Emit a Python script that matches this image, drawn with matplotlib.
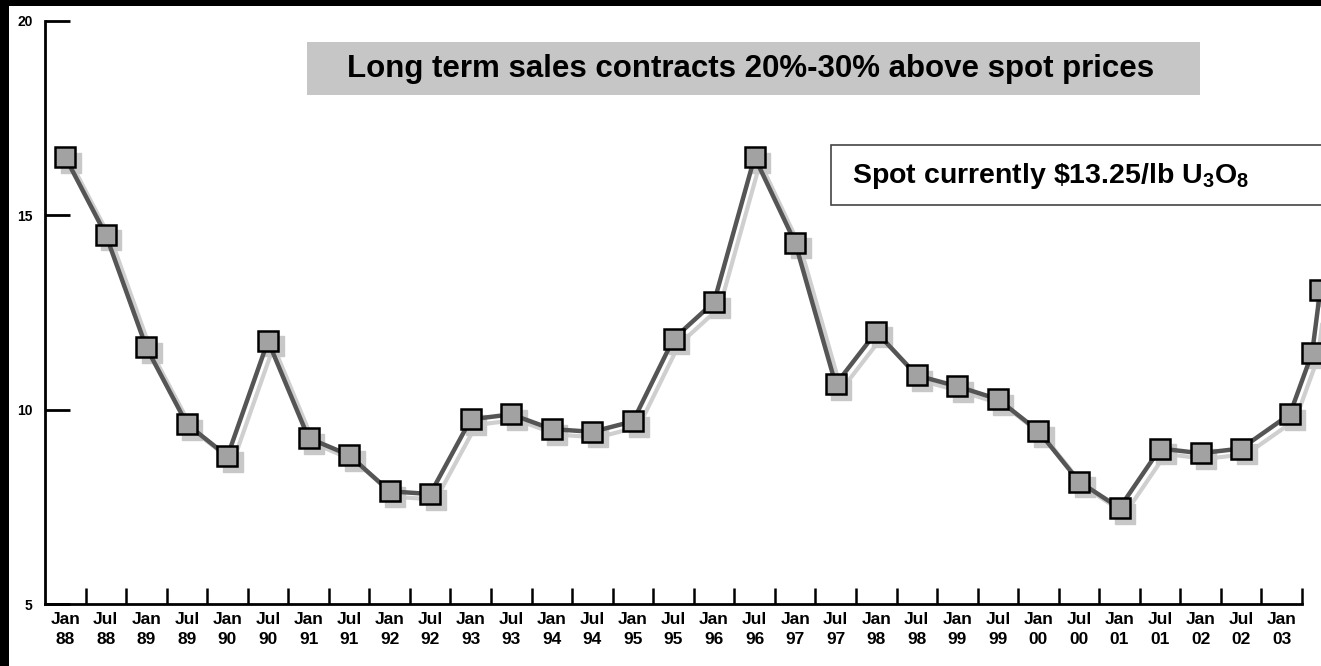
import matplotlib
matplotlib.use("Agg")
import matplotlib.pyplot as plt
from matplotlib.patches import Rectangle
from matplotlib.transforms import ScaledTranslation

plt.rcParams['font.family'] = ['Liberation Sans', 'DejaVu Sans']
plt.rcParams['mathtext.fontset'] = 'custom'
plt.rcParams['mathtext.rm'] = 'Liberation Sans:bold'
plt.rcParams['mathtext.bf'] = 'Liberation Sans:bold'

# ---- data ----
categories = ["Jan\n88", "Jul\n88", "Jan\n89", "Jul\n89", "Jan\n90", "Jul\n90", "Jan\n91", "Jul\n91",
              "Jan\n92", "Jul\n92", "Jan\n93", "Jul\n93", "Jan\n94", "Jul\n94", "Jan\n95", "Jul\n95",
              "Jan\n96", "Jul\n96", "Jan\n97", "Jul\n97", "Jan\n98", "Jul\n98", "Jan\n99", "Jul\n99",
              "Jan\n00", "Jul\n00", "Jan\n01", "Jul\n01", "Jan\n02", "Jul\n02", "Jan\n03"]
x_pos = [0, 1, 2, 3, 4, 5, 6, 7, 8, 9, 10, 11, 12, 13, 14, 15, 16, 17, 18, 19, 20, 21, 22, 23,
         24, 25, 26, 27, 28, 29, 30.2, 30.75, 30.95]
spot_price = [16.5, 14.5, 11.6, 9.63, 8.8, 11.77, 9.27, 8.83, 7.9, 7.83, 9.75, 9.88, 9.5, 9.43,
              9.7, 11.82, 12.77, 16.5, 14.3, 10.65, 12.0, 10.88, 10.6, 10.27, 9.45, 8.15, 7.47,
              9.0, 8.88, 9.0, 9.88, 11.46, 13.08]
y_ticks = [5, 10, 15, 20]
title_text = "Long term sales contracts 20%-30% above spot prices"
note_text = r"Spot currently \$13.25/lb U$_{\mathbf{3}}$O$_{\mathbf{8}}$"

W, H = 1321, 666
fig = plt.figure(figsize=(W / 100, H / 100), dpi=100)
fig.patch.set_facecolor('white')

def fx(px):
    return px / W

def fy(py):
    return 1 - py / H

ax = fig.add_axes([fx(45), fy(604), fx(1302) - fx(45), fy(21) - fy(604)])
ax.set_facecolor('white')
ax.set_xlim(-0.5, 30.5)
ax.set_ylim(5, 20)

# shadow
shadow = ScaledTranslation(4 / 72, -4 / 72, fig.dpi_scale_trans)
ax.plot(x_pos, spot_price, color='#cfcfcf', lw=3, marker='s', ms=14, mfc='#c8c8c8',
        mec='#c8c8c8', transform=ax.transData + shadow, clip_on=False, zorder=2)
ax.plot(x_pos, spot_price, color='#555555', lw=3.2, marker='s', ms=14, mfc='#a2a2a2',
        mec='black', mew=1.8, clip_on=False, zorder=3)

for s in ['top', 'right']:
    ax.spines[s].set_visible(False)
for s in ['left', 'bottom']:
    ax.spines[s].set_linewidth(2)
    ax.spines[s].set_color('black')

ax.set_yticks(y_ticks)
ax.set_yticklabels([str(v) for v in y_ticks], fontsize=10, fontweight='bold')
ax.tick_params(axis='y', direction='in', length=18, width=2, pad=9)

ax.set_xticks([i + 0.5 for i in range(len(categories))])
ax.set_xticklabels([])
ax.tick_params(axis='x', which='major', direction='in', length=11.5, width=1.8)
ax.set_xticks(list(range(len(categories))), minor=True)
ax.set_xticklabels(categories, minor=True, fontsize=12.5, fontweight='bold', linespacing=1.35)
ax.tick_params(axis='x', which='minor', length=0, pad=6)

# title box
fig.add_artist(Rectangle((fx(307), fy(95)), fx(1200) - fx(307), fy(42) - fy(95),
                         transform=fig.transFigure, facecolor='#c6c6c6', edgecolor='none'))
fig.text(fx(751), fy(69), title_text, ha='center', va='center', fontsize=22.5,
         fontweight='bold', color='black')

# note box
fig.add_artist(Rectangle((fx(831), fy(205)), fx(1340) - fx(831), fy(145) - fy(205),
                         transform=fig.transFigure, facecolor='white', edgecolor='#444444',
                         lw=1.2))
fig.text(fx(852), fy(176), note_text, ha='left', va='center', fontsize=20.5,
         fontweight='bold', color='black')

# black frame edges
fig.add_artist(Rectangle((0, fy(6)), 1, fy(0) - fy(6), transform=fig.transFigure,
                         facecolor='black', edgecolor='none'))
fig.add_artist(Rectangle((0, 0), fx(9), 1, transform=fig.transFigure,
                         facecolor='black', edgecolor='none'))

fig.savefig('out.png', dpi=100)
